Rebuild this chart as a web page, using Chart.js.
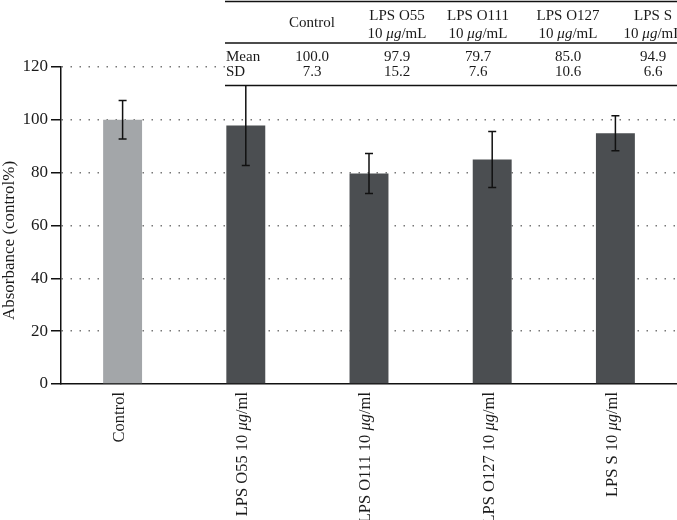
<!DOCTYPE html>
<html>
<head>
<meta charset="utf-8">
<script src="https://cdn.jsdelivr.net/npm/chart.js@4"></script>
<style>
  html, body { margin: 0; padding: 0; background: #fff; }
  #wrap { width: 677px; height: 520px; }
</style>
</head>
<body>
<div id="wrap"><canvas id="chart" width="677" height="520"></canvas></div>
<script>
// Datos del gráfico
const groups = ['Control', 'LPS O55 10 μg/ml', 'LPS O111 10 μg/ml', 'LPS O127 10 μg/ml', 'LPS S 10 μg/ml'];
const means = [100.0, 97.9, 79.7, 85.0, 94.9];
const sds = [7.3, 15.2, 7.6, 10.6, 6.6];
const barColors = ['#a3a6a9', '#4b4e51', '#4b4e51', '#4b4e51', '#4b4e51'];
const yTitle = 'Absorbance (control%)';

// Tabla de arriba
const tableHeaders = [['Control'], ['LPS O55', '10 μg/mL'], ['LPS O111', '10 μg/mL'], ['LPS O127', '10 μg/mL'], ['LPS S', '10 μg/mL']];
const tableRows = ['Mean', 'SD'];

const serif = '"Liberation Serif", "DejaVu Serif", serif';
const ink = '#1a1a1a';

// Dibuja texto con "μg" en cursiva
function richWidth(ctx, text, size) {
    let w = 0;
    text.split(/(μg)/).forEach(p => {
        if (!p) return;
        ctx.font = (p === 'μg' ? 'italic ' : '') + size + 'px ' + serif;
        w += ctx.measureText(p).width;
    });
    return w;
}
function drawRich(ctx, text, x, y, size) {
    let cx = x;
    text.split(/(μg)/).forEach(p => {
        if (!p) return;
        ctx.font = (p === 'μg' ? 'italic ' : '') + size + 'px ' + serif;
        ctx.fillText(p, cx, y);
        cx += ctx.measureText(p).width;
    });
}

// Barras de error
const errorBars = {
    id: 'errorBars',
    afterDatasetsDraw(chart) {
        const ctx = chart.ctx;
        const x = chart.scales.x, y = chart.scales.y;
        ctx.save();
        ctx.strokeStyle = '#111';
        ctx.lineWidth = 1.5;
        means.forEach((m, i) => {
            const px = x.getPixelForValue(i);
            const top = y.getPixelForValue(m + sds[i]);
            const bot = y.getPixelForValue(m - sds[i]);
            ctx.beginPath();
            ctx.moveTo(px, top); ctx.lineTo(px, bot);
            ctx.moveTo(px - 4, top); ctx.lineTo(px + 4, top);
            ctx.moveTo(px - 4, bot); ctx.lineTo(px + 4, bot);
            ctx.stroke();
        });
        ctx.restore();
    }
};

// Etiquetas del eje x (giradas), título del eje y y tabla
const extras = {
    id: 'extras',
    afterDraw(chart) {
        const ctx = chart.ctx;
        const x = chart.scales.x;
        const area = chart.chartArea;
        ctx.save();
        ctx.fillStyle = ink;
        ctx.textBaseline = 'middle';
        groups.forEach((g, i) => {
            const px = x.getPixelForValue(i) - 3;
            const w = richWidth(ctx, g, 16.5);
            ctx.save();
            ctx.translate(px, area.bottom + 8);
            ctx.rotate(-Math.PI / 2);
            ctx.textAlign = 'left';
            drawRich(ctx, g, -w, 0, 16.5);
            ctx.restore();
        });

        // título del eje y
        ctx.save();
        ctx.translate(10, (area.top + area.bottom) / 2 + 15);
        ctx.rotate(-Math.PI / 2);
        ctx.textAlign = 'center';
        ctx.font = '17px ' + serif;
        ctx.fillText(yTitle, 0, 0);
        ctx.restore();

        // tabla
        const left = 225, right = 677;
        const cols = [312, 397, 478, 568, 653];
        ctx.fillStyle = '#fff';
        ctx.fillRect(left, 0, right - left, 86);
        ctx.strokeStyle = '#111';
        ctx.lineWidth = 1.5;
        [1.5, 43, 85.5].forEach(ly => {
            ctx.beginPath();
            ctx.moveTo(left, ly); ctx.lineTo(right, ly);
            ctx.stroke();
        });
        ctx.fillStyle = ink;
        ctx.textAlign = 'left';
        tableHeaders.forEach((h, i) => {
            const ys = h.length === 1 ? [23] : [16, 34];
            h.forEach((t, k) => {
                const w = richWidth(ctx, t, 15);
                drawRich(ctx, t, cols[i] - w / 2, ys[k], 15);
            });
        });
        ctx.font = '15px ' + serif;
        ctx.fillText(tableRows[0], 226, 57);
        ctx.fillText(tableRows[1], 226, 72);
        ctx.textAlign = 'center';
        means.forEach((m, i) => {
            ctx.fillText(m.toFixed(1), cols[i], 57);
            ctx.fillText(sds[i].toFixed(1), cols[i], 72);
        });
        ctx.restore();
    }
};

new Chart(document.getElementById('chart'), {
    type: 'bar',
    data: {
        labels: groups,
        datasets: [{
            data: means,
            backgroundColor: barColors,
            borderWidth: 0,
            barPercentage: 0.316,
            categoryPercentage: 1
        }]
    },
    options: {
        responsive: false,
        animation: false,
        layout: { padding: { top: 67, left: 0, right: 0, bottom: 0 } },
        plugins: { legend: { display: false }, tooltip: { enabled: false } },
        scales: {
            x: {
                grid: { display: false },
                border: { display: true, color: '#111', width: 1.5 },
                ticks: { display: false },
                afterFit(scale) { scale.height = 136; }
            },
            y: {
                min: 0,
                max: 120,
                ticks: {
                    stepSize: 20,
                    padding: 3,
                    color: ink,
                    font: { family: serif, size: 17 }
                },
                grid: {
                    color: ctx => ctx.tick && ctx.tick.value === 0 ? 'rgba(0,0,0,0)' : '#777',
                    lineWidth: 1.5,
                    tickColor: '#111',
                    tickLength: 10,
                    tickBorderDash: [1, 0]
                },
                border: { display: true, color: '#111', width: 1.5, dash: [1.5, 7.5] },
                afterFit(scale) { scale.width = 61; }
            }
        }
    },
    plugins: [errorBars, extras]
});
</script>
</body>
</html>
